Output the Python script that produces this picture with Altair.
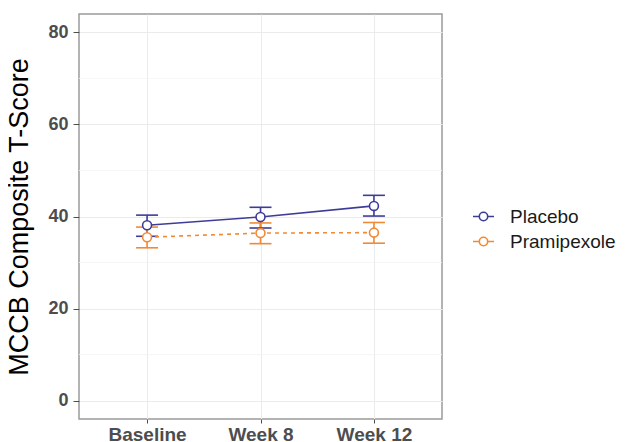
import altair as alt
import pandas as pd

times = ["Baseline", "Week 8", "Week 12"]
groups = ["Placebo", "Pramipexole"]
placebo_mean = [38.1, 39.9, 42.3]
placebo_lo = [35.7, 37.5, 40.1]
placebo_hi = [40.3, 42.0, 44.6]
prami_mean = [35.5, 36.4, 36.5]
prami_lo = [33.2, 34.1, 34.2]
prami_hi = [37.7, 38.6, 38.7]
colors = ["#3D3D99", "#F08A35"]
y_ticks = [0, 20, 40, 60, 80]
minor_ticks = [10, 30, 50, 70]

rows = []
for g, m, lo, hi in [("Placebo", placebo_mean, placebo_lo, placebo_hi),
                     ("Pramipexole", prami_mean, prami_lo, prami_hi)]:
    for t, mv, lv, hv in zip(times, m, lo, hi):
        rows.append({"group": g, "time": t, "mean": mv, "lo": lv, "hi": hv})
df = pd.DataFrame(rows)
minor_df = pd.DataFrame({"v": minor_ticks})

FONT = "Liberation Sans"
xscale = alt.Scale(type="point", domain=times, padding=0.6)
yscale = alt.Scale(domain=[-4, 84], nice=False, zero=False)
cscale = alt.Scale(domain=groups, range=colors)

x_axis = alt.Axis(title=None, labelAngle=0, labelFont=FONT, labelFontSize=19,
                  labelFontWeight="bold", labelColor="#4D4D4D", tickColor="#4D4D4D",
                  tickSize=4, labelPadding=2, domain=False, grid=True,
                  gridColor="#EBEBEB", gridWidth=1)
y_axis = alt.Axis(title="MCCB Composite T-Score", values=y_ticks, titleFont=FONT,
                  titleFontSize=27, titleFontWeight="normal", titleColor="black",
                  titlePadding=14, labelFont=FONT, labelFontSize=18,
                  labelFontWeight="bold", labelColor="#4D4D4D", tickColor="#4D4D4D",
                  tickSize=6, labelPadding=5, domain=False, grid=True,
                  gridColor="#EBEBEB", gridWidth=1)

legend_symbol = ("M -1 0 L -0.4 0 M 0.4 0 L 1 0 M 0.4 0 "
                 "A 0.4 0.4 0 1 1 -0.4 0 A 0.4 0.4 0 1 1 0.4 0")
legend = alt.Legend(title=None, orient="none", legendX=393, legendY=191,
                    symbolType=legend_symbol, symbolSize=441,
                    symbolStrokeWidth=1.6, symbolFillColor="white", symbolOpacity=1,
                    labelFont=FONT, labelFontSize=19, labelColor="#1A1A1A",
                    rowPadding=3, labelOffset=15)

x_enc = alt.X("time:N", scale=xscale, sort=times, axis=x_axis)
color_enc = alt.Color("group:N", scale=cscale, legend=legend)

def yq(field):
    return alt.Y(field, type="quantitative", scale=yscale, axis=y_axis)

minor = alt.Chart(minor_df).mark_rule(color="#F4F4F4", strokeWidth=0.8).encode(y=yq("v"))

base = alt.Chart(df)

err = base.mark_rule(strokeWidth=1.6, opacity=1).encode(
    x=x_enc, y=yq("lo"), y2="hi:Q", color=color_enc)
cap_shape = "M -1 0 L 1 0"
cap_lo = base.mark_point(shape=cap_shape, size=484, filled=False, strokeWidth=1.6, opacity=1).encode(
    x=x_enc, y=yq("lo"), color=color_enc)
cap_hi = base.mark_point(shape=cap_shape, size=484, filled=False, strokeWidth=1.6, opacity=1).encode(
    x=x_enc, y=yq("hi"), color=color_enc)

line_p = base.transform_filter(alt.datum.group == "Placebo").mark_line(strokeWidth=1.6).encode(
    x=x_enc, y=yq("mean"), color=color_enc)
line_r = base.transform_filter(alt.datum.group == "Pramipexole").mark_line(
    strokeWidth=1.6, strokeDash=[4, 4]).encode(
    x=x_enc, y=yq("mean"), color=color_enc)
pts = base.mark_point(filled=False, fill="white", fillOpacity=1, opacity=1, size=80,
                      strokeWidth=1.6).encode(
    x=x_enc, y=yq("mean"), color=color_enc)

chart = alt.layer(minor, err, cap_lo, cap_hi, line_p, line_r, pts).properties(
    width=363, height=405,
    autosize=alt.AutoSizeParams(type="none"),
    padding={"left": 71, "top": 6, "right": 183, "bottom": 23},
    background="white",
).configure_view(stroke="#9A9A9A", strokeWidth=1.5)

chart.save("out.html", embed_options={"renderer": "svg", "actions": False})
